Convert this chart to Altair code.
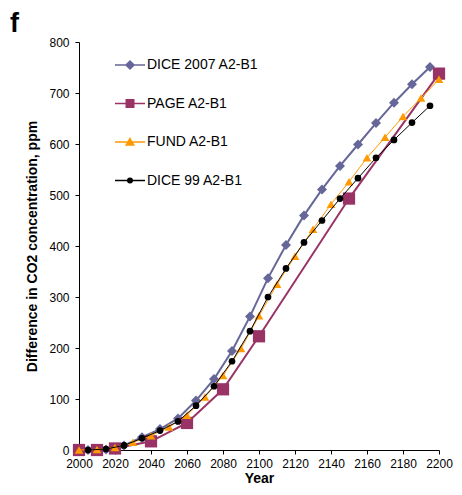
import altair as alt
import pandas as pd

series_names = ["DICE 2007 A2-B1", "PAGE A2-B1", "FUND A2-B1", "DICE 99 A2-B1"]
series_colors = ["#666699", "#993366", "#FF9900", "#000000"]

dice07_years = [2005, 2015, 2025, 2035, 2045, 2055, 2065, 2075, 2085, 2095,
                2105, 2115, 2125, 2135, 2145, 2155, 2165, 2175, 2185, 2195]
dice07_vals = [0, 1, 9, 25, 41, 62, 97, 139, 194, 262,
               337, 402, 460, 511, 557, 599, 641, 681, 717, 751]

page_years = [2000, 2010, 2020, 2040, 2060, 2080, 2100, 2150, 2200]
page_vals = [0, 0, 3, 17, 53, 119, 223, 493, 738]

fund_years = [2000, 2010, 2020, 2030, 2040, 2050, 2060, 2070, 2080, 2090, 2100,
              2110, 2120, 2130, 2140, 2150, 2160, 2170, 2180, 2190, 2200]
fund_vals = [0, 1, 5, 15, 28, 45, 68, 104, 146, 199, 263,
             325, 380, 433, 482, 526, 573, 613, 654, 690, 727]

dice99_years = [2005, 2015, 2025, 2035, 2045, 2055, 2065, 2075, 2085, 2095,
                2105, 2115, 2125, 2135, 2145, 2155, 2165, 2175, 2185, 2195]
dice99_vals = [0, 2, 9, 23, 38, 56, 87, 125, 174, 233,
               300, 356, 407, 450, 493, 533, 573, 608, 642, 675]

x_ticks = [2000, 2020, 2040, 2060, 2080, 2100, 2120, 2140, 2160, 2180, 2200]
y_ticks = [0, 100, 200, 300, 400, 500, 600, 700, 800]

all_years = [dice07_years, page_years, fund_years, dice99_years]
all_vals = [dice07_vals, page_vals, fund_vals, dice99_vals]

rows = []
for name, ys, vs in zip(series_names, all_years, all_vals):
    for yr, v in zip(ys, vs):
        rows.append({"series": name, "year": yr, "value": v})
df = pd.DataFrame(rows)

FONT = "Liberation Sans"

x_enc = alt.X("year:Q", scale=alt.Scale(domain=[2000, 2200], nice=False),
              axis=alt.Axis(values=x_ticks, format="d", title="Year"))
y_enc = alt.Y("value:Q", scale=alt.Scale(domain=[0, 800], nice=False),
              axis=alt.Axis(values=y_ticks, title="Difference in CO2 concentration, ppm"))

marker_shapes = ["diamond", "square", "triangle-up", "circle"]
marker_sizes = [100, 150, 75, 45]
line_widths = [2, 2, 1, 1]

layers = []
for name, col, shp, sz, lw in zip(series_names, series_colors, marker_shapes, marker_sizes, line_widths):
    sub = df[df["series"] == name]
    base = alt.Chart(sub)
    layers.append(base.mark_line(color=col, strokeWidth=lw).encode(x=x_enc, y=y_enc))
    layers.append(base.mark_point(shape=shp, filled=True, size=sz, color=col, opacity=1)
                  .encode(x=x_enc, y=y_enc))

legend_paths = [
    "M-3,0H3M0,-0.8L0.8,0L0,0.8L-0.8,0Z",
    "M-3,0H3M-0.75,-0.75H0.75V0.75H-0.75Z",
    "M-3,0H3M0,-0.7L0.75,0.6L-0.75,0.6Z",
    "M-3,0H3M-0.45,0A0.45,0.45,0,1,1,0.45,0A0.45,0.45,0,1,1,-0.45,0Z",
]

leg = alt.Legend(title=None, orient="none", legendX=44, legendY=16,
                 symbolSize=100, symbolStrokeWidth=1.5, symbolOpacity=1,
                 labelFont=FONT, labelFontSize=14, labelColor="#000000",
                 labelOffset=10, rowPadding=24.5, padding=0)

legend_layer = alt.Chart(df).mark_point(filled=True, opacity=0, size=100, strokeWidth=1.5).encode(
    x=x_enc, y=y_enc,
    fill=alt.Fill("series:N", scale=alt.Scale(domain=series_names, range=series_colors), legend=leg),
    stroke=alt.Stroke("series:N", scale=alt.Scale(domain=series_names, range=series_colors), legend=leg),
    shape=alt.Shape("series:N", scale=alt.Scale(domain=series_names, range=legend_paths), legend=leg),
)

chart = alt.layer(*layers, legend_layer).properties(
    width=360, height=408,
    padding={"left": 2, "top": 2, "right": 0, "bottom": 0},
    title=alt.TitleParams("f", anchor="start", frame="group", fontSize=27, fontWeight="bold",
                          font=FONT, color="#000000", dx=-69, offset=-2),
).configure_view(stroke=None).configure_axis(
    grid=False, domainColor="#000000", tickColor="#000000", domainWidth=1, tickWidth=1,
    tickSize=4, labelFont=FONT, labelFontSize=12, labelColor="#000000",
    labelFlush=False, labelOverlap=False,
    titleFont=FONT, titleFontSize=14, titleFontWeight="bold", titleColor="#000000",
).configure_axisX(labelPadding=4, titlePadding=2).configure_axisY(labelPadding=6, titlePadding=9)

chart.save("out.html", embed_options={"renderer": "svg", "actions": False})
